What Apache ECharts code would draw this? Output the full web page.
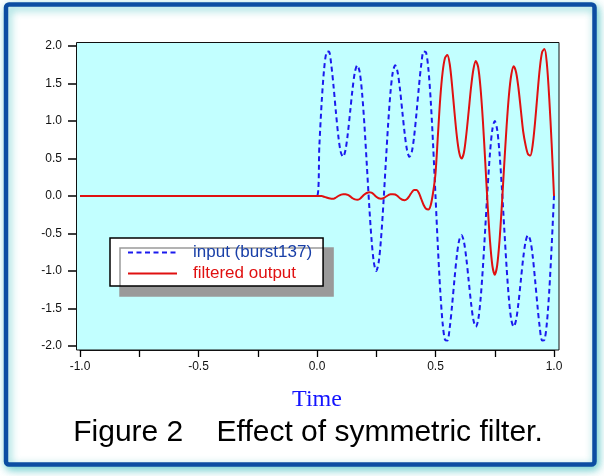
<!DOCTYPE html>
<html><head><meta charset="utf-8">
<script src="https://cdn.jsdelivr.net/npm/echarts@6/dist/echarts.min.js"></script>
<style>html,body{margin:0;padding:0;background:#fff;}#c{width:604px;height:476px;}</style>
</head><body><div id="c"></div>
<script>
// Time samples (first point is the left end of the flat zero segment)
const times = [-1.0,
 0.00,0.01,0.02,0.03,0.04,0.05,0.06,0.07,0.08,0.09,
 0.10,0.11,0.12,0.13,0.14,0.15,0.16,0.17,0.18,0.19,
 0.20,0.21,0.22,0.23,0.24,0.25,0.26,0.27,0.28,0.29,
 0.30,0.31,0.32,0.33,0.34,0.35,0.36,0.37,0.38,0.39,
 0.40,0.41,0.42,0.43,0.44,0.45,0.46,0.47,0.48,0.49,
 0.50,0.51,0.52,0.53,0.54,0.55,0.56,0.57,0.58,0.59,
 0.60,0.61,0.62,0.63,0.64,0.65,0.66,0.67,0.68,0.69,
 0.70,0.71,0.72,0.73,0.74,0.75,0.76,0.77,0.78,0.79,
 0.80,0.81,0.82,0.83,0.84,0.85,0.86,0.87,0.88,0.89,
 0.90,0.91,0.92,0.93,0.94,0.95,0.96,0.97,0.98,0.99,
 1.00];

// input (burst137), dashed blue
const inputValues = [0,
 0,0.676,1.264,1.692,1.916,1.927,1.755,1.457,1.112,0.799,
 0.588,0.522,0.611,0.831,1.127,1.427,1.654,1.743,1.654,1.380,
 0.951,0.427,-0.111,-0.575,-0.889,-1.000,-0.889,-0.575,-0.111,0.427,
 0.951,1.380,1.654,1.743,1.654,1.427,1.127,0.831,0.611,0.522,
 0.588,0.799,1.112,1.457,1.755,1.927,1.916,1.692,1.264,0.676,
 0,-0.676,-1.264,-1.692,-1.916,-1.927,-1.755,-1.457,-1.112,-0.799,
 -0.588,-0.522,-0.611,-0.831,-1.127,-1.427,-1.654,-1.743,-1.654,-1.380,
 -0.951,-0.427,0.111,0.575,0.889,1.000,0.889,0.575,0.111,-0.427,
 -0.951,-1.380,-1.654,-1.743,-1.654,-1.427,-1.127,-0.831,-0.611,-0.522,
 -0.588,-0.799,-1.112,-1.457,-1.755,-1.927,-1.916,-1.692,-1.264,-0.676,
 0];

// filtered output, solid red
const outputValues = [0,
 0,0,0,-0.01,-0.02,-0.03,-0.035,-0.035,-0.02,0,
 0.015,0.025,0.025,0.015,-0.005,-0.03,-0.045,-0.05,-0.04,-0.01,
 0.02,0.04,0.05,0.045,0.02,-0.01,-0.03,-0.035,-0.03,-0.01,
 0.01,0.025,0.025,0.02,0,-0.03,-0.05,-0.055,-0.04,0,
 0.05,0.08,0.08,0.04,-0.04,-0.12,-0.17,-0.18,-0.12,0.05,
 0.3,0.8,1.3,1.65,1.84,1.88,1.76,1.47,1.12,0.8,
 0.58,0.5,0.58,0.82,1.13,1.45,1.69,1.8,1.72,1.44,
 1.0,0.45,-0.12,-0.6,-0.93,-1.05,-0.93,-0.6,-0.12,0.42,
 0.93,1.35,1.62,1.73,1.65,1.44,1.15,0.86,0.68,0.56,
 0.54,0.68,0.98,1.35,1.7,1.92,1.96,1.76,1.3,0.7,
 0];

const xTickLabels = [-1.0, -0.5, 0.0, 0.5, 1.0];
const yTickLabels = [-2.0, -1.5, -1.0, -0.5, 0.0, 0.5, 1.0, 1.5, 2.0];
const seriesNames = ['input (burst137)', 'filtered output'];
const xAxisTitle = 'Time';
const caption = 'Figure 2    Effect of symmetric filter.';

const FONT = '"Liberation Sans", Arial, Helvetica, sans-serif';
const chart = echarts.init(document.getElementById('c'), null, {renderer: 'canvas'});

const option = {
  animation: false,
  backgroundColor: '#ffffff',
  grid: {left: 80, right: 50, top: 46, bottom: 130},
  xAxis: {
    type: 'value', min: -1, max: 1, interval: 0.25, offset: 4,
    axisLine: {show: true, onZero: false, lineStyle: {color: '#111', width: 1}},
    axisTick: {show: true, length: 7, lineStyle: {color: '#000', width: 1.3}},
    axisLabel: {
      margin: 11, fontSize: 12, color: '#111', fontFamily: FONT,
      formatter: v => xTickLabels.some(t => Math.abs(t - v) < 1e-6) ? v.toFixed(1) : ''
    },
    splitLine: {show: false},
    name: xAxisTitle, nameLocation: 'middle', nameGap: 38,
    nameTextStyle: {fontFamily: '"Liberation Serif", "Times New Roman", serif', fontSize: 24, color: '#1414ff'}
  },
  yAxis: {
    type: 'value', min: -2, max: 2, interval: 0.5, offset: 4,
    axisLine: {show: true, onZero: false, lineStyle: {color: '#111', width: 1}},
    axisTick: {show: true, length: 8, lineStyle: {color: '#000', width: 1.5}},
    axisLabel: {
      margin: 14, fontSize: 12, color: '#111', fontFamily: FONT,
      formatter: v => yTickLabels.some(t => Math.abs(t - v) < 1e-6) ? v.toFixed(1) : ''
    },
    splitLine: {show: false}
  },
  legend: {
    orient: 'vertical', left: 110, top: 238,
    itemWidth: 49, itemHeight: 14, itemGap: 4,
    padding: [6, 11, 4, 17],
    backgroundColor: '#ffffff', borderColor: '#000', borderWidth: 1.5, borderRadius: 0,
    shadowColor: '#9a9a9a', shadowBlur: 0, shadowOffsetX: 10, shadowOffsetY: 10,
    itemStyle: {opacity: 0},
    textStyle: {fontSize: 17, fontFamily: FONT, padding: [0, 0, 0, 11]},
    data: [
      {name: seriesNames[0], textStyle: {color: '#1a40a8'}},
      {name: seriesNames[1], textStyle: {color: '#e01010'}}
    ]
  },
  graphic: [
    {type: 'rect', z: -20, shape: {x: 6, y: 4.5, width: 588.5, height: 460, r: 3},
     style: {fill: '#ffffff', stroke: '#0c4da2', lineWidth: 4.5,
             shadowBlur: 8, shadowColor: 'rgba(60,190,190,0.7)', shadowOffsetX: 2, shadowOffsetY: 3}},
    {type: 'rect', z: -10, shape: {x: 76.5, y: 42.5, width: 482.5, height: 307.5},
     style: {fill: '#c2ffff', stroke: '#111', lineWidth: 1}},
    {type: 'text', z: 5, x: 308, y: 433,
     style: {text: caption, fontSize: 30, fontFamily: FONT, fill: '#000', align: 'center', verticalAlign: 'middle'}}
  ],
  series: [
    {name: seriesNames[0], type: 'line', symbol: 'none', smooth: 0.3, z: 2,
     data: times.map((t, i) => [t, inputValues[i]]),
     lineStyle: {color: '#1a1aee', width: 2, type: [5, 3.5]},
     itemStyle: {color: '#1a1aee'}},
    {name: seriesNames[1], type: 'line', symbol: 'none', smooth: 0.3, z: 3,
     data: times.map((t, i) => [t, outputValues[i]]),
     lineStyle: {color: '#e01010', width: 2},
     itemStyle: {color: '#e01010'}}
  ]
};
chart.setOption(option);
</script>
</body></html>
